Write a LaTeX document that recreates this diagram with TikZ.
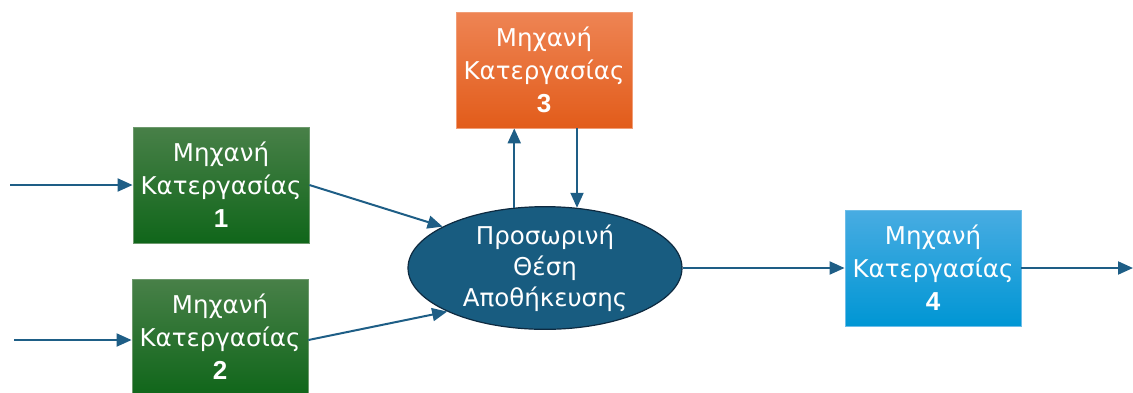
\documentclass[tikz,border=0pt]{standalone}
\usepackage{fontspec}
\setmainfont{DejaVu Sans}
\newfontfamily\numfont{Liberation Sans}
\usetikzlibrary{arrows.meta, positioning, shapes.geometric}
\definecolor{grtop}{RGB}{72,128,72}
\definecolor{grbot}{RGB}{16,102,26}
\definecolor{ortop}{RGB}{238,132,84}
\definecolor{orbot}{RGB}{226,92,26}
\definecolor{bltop}{RGB}{72,172,226}
\definecolor{blbot}{RGB}{0,150,212}
\definecolor{bufc}{RGB}{24,92,128}
\definecolor{bufedge}{RGB}{14,42,64}
\definecolor{flowc}{RGB}{30,94,134}
\newcommand{\mnum}[1]{{\numfont\bfseries\fontsize{26}{32}\selectfont #1}}

\begin{document}
\begin{tikzpicture}[x=1pt, y=-1pt,
  machine/.style={minimum width=176pt, minimum height=116pt, inner sep=0pt,
    text=white, align=center, font=\fontsize{24.5}{33}\selectfont, line width=0.8pt},
  greenbox/.style={machine, top color=grtop, bottom color=grbot, draw=grtop!80!white},
  orangebox/.style={machine, top color=ortop, bottom color=orbot, draw=ortop!80!white},
  bluebox/.style={machine, top color=bltop, bottom color=blbot, draw=bltop!80!white},
  flow/.style={draw=flowc, line width=2pt, -{Triangle[length=15pt, width=13pt]}}]
  \useasboundingbox (0,0) rectangle (1133,392);

  % machines
  \node[greenbox] (m1) at (221,185) {Μηχανή\\Κατεργασίας\\\mnum{1}};
  \node[greenbox] (m2) at (220,337) {Μηχανή\\Κατεργασίας\\\mnum{2}};
  \node[orangebox] (m3) at (544,70) {Μηχανή\\Κατεργασίας\\\mnum{3}};
  \node[bluebox] (m4) at (933,268) {Μηχανή\\Κατεργασίας\\\mnum{4}};

  % buffer
  \node[ellipse, minimum width=274pt, minimum height=112pt, inner sep=0pt,
    fill=bufc, draw=bufedge, line width=1.2pt, text=white, align=center,
    font=\fontsize{24.5}{31}\selectfont] (buf) at (545,268) {Προσωρινή\\Θέση\\Αποθήκευσης};

  % free ends
  \coordinate (in1) at (10,185);
  \coordinate (in2) at (14,340);
  \coordinate (out4) at (1133,268);

  % flows
  \draw[flow] (in1) -- (m1);
  \draw[flow] (in2) -- (in2 -| m2.west);
  \draw[flow] (m1.east) -- (buf.158);
  \draw[flow] (m2.east |- in2) -- (buf.204);
  \draw[flow] (buf.117) -- (buf.117 |- m3.south);
  \draw[flow] (m3.south -| buf.62) -- (buf.62);
  \draw[flow] (buf.east) -- (m4.west);
  \draw[flow] (m4.east) -- (out4);
\end{tikzpicture}
\end{document}
